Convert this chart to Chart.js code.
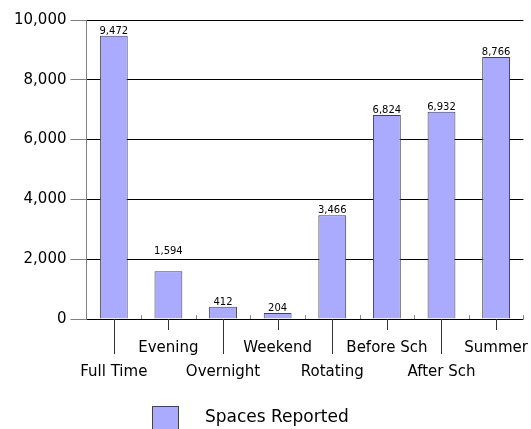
<!DOCTYPE html>
<html>
<head>
<meta charset="utf-8">
<script src="https://cdn.jsdelivr.net/npm/chart.js@4.4.0/dist/chart.umd.min.js"></script>
<style>
  html, body { margin: 0; padding: 0; background: #fff; overflow: hidden; }
  #wrap { width: 546px; height: 429px; position: relative; }
</style>
</head>
<body>
<div id="wrap"><canvas id="grafico"></canvas></div>
<script>
const categorias = ['Full Time', 'Evening', 'Overnight', 'Weekend', 'Rotating', 'Before Sch', 'After Sch', 'Summer'];
const vagas = [9472, 1594, 412, 204, 3466, 6824, 6932, 8766];
const ticksY = [0, 2000, 4000, 6000, 8000, 10000];
const nomeSerie = 'Spaces Reported';

const fonte = 'DejaVu Sans';
const corBarra = '#aaaaff';
const corBorda = '#444';

// rotulos alternam entre duas linhas
const rotulos = categorias.map((c, i) => i % 2 === 0 ? ['', c] : [c, '']);

const extras = {
  id: 'extras',
  afterDatasetsDraw(chart) {
    const ctx = chart.ctx;
    const x = chart.scales.x;
    const y = chart.scales.y;
    const area = chart.chartArea;
    ctx.save();

    // marcas das categorias abaixo do eixo
    ctx.strokeStyle = '#333';
    ctx.lineWidth = 1;
    categorias.forEach((c, i) => {
      const px = Math.round(x.getPixelForValue(i)) + 0.5;
      ctx.beginPath();
      ctx.moveTo(px, area.bottom);
      ctx.lineTo(px, area.bottom + (i % 2 === 0 ? 35 : 11));
      ctx.stroke();
    });

    // pequenas marcas entre categorias
    ctx.strokeStyle = '#888';
    for (let i = 1; i <= categorias.length; i++) {
      const px = Math.round(x.getPixelForValue(i - 0.5)) + 0.5;
      ctx.beginPath();
      ctx.moveTo(px, area.bottom - 4);
      ctx.lineTo(px, area.bottom);
      ctx.stroke();
    }

    // valores acima das barras (sobem se cruzarem uma linha de grade)
    ctx.fillStyle = '#000';
    ctx.font = '10px "' + fonte + '"';
    ctx.textAlign = 'center';
    ctx.textBaseline = 'alphabetic';
    const meta = chart.getDatasetMeta(0);
    meta.data.forEach((barra, i) => {
      let base = barra.y - 2;
      const alto = 12;
      ticksY.forEach(t => {
        const gy = y.getPixelForValue(t);
        if (gy > base - alto && gy < base) base = gy - 5;
      });
      ctx.fillText(vagas[i].toLocaleString('en-US'), barra.x, base);
    });
    ctx.restore();
  },
  afterDraw(chart) {
    const ctx = chart.ctx;
    const topo = chart.height - 23;
    ctx.save();
    ctx.fillStyle = corBarra;
    ctx.strokeStyle = corBorda;
    ctx.lineWidth = 1;
    ctx.fillRect(152, topo, 26, 26);
    ctx.strokeRect(152.5, topo + 0.5, 26, 26);
    ctx.fillStyle = '#000';
    ctx.font = '17px "' + fonte + '"';
    ctx.textAlign = 'left';
    ctx.textBaseline = 'middle';
    ctx.fillText(nomeSerie, 205, topo + 12);
    ctx.restore();
  }
};

const ctx = document.getElementById('grafico').getContext('2d');
new Chart(ctx, {
  type: 'bar',
  data: {
    labels: rotulos,
    datasets: [{
      label: nomeSerie,
      data: vagas,
      backgroundColor: corBarra,
      borderColor: corBorda,
      borderWidth: 1,
      categoryPercentage: 1,
      barPercentage: 0.51
    }]
  },
  options: {
    responsive: true,
    maintainAspectRatio: false,
    animation: false,
    layout: {
      padding: { left: 10, right: 17, top: 20, bottom: 28 }
    },
    plugins: {
      legend: { display: false },
      tooltip: { enabled: false }
    },
    scales: {
      x: {
        grid: { display: false, drawTicks: false },
        border: { display: false },
        ticks: {
          color: '#000',
          autoSkip: false,
          maxRotation: 0,
          padding: 17,
          font: { family: fonte, size: 15, lineHeight: 1.6 }
        }
      },
      y: {
        min: 0,
        max: 10000,
        grid: { color: '#000', tickColor: '#808080', tickLength: 16 },
        border: { color: '#808080' },
        ticks: {
          stepSize: 2000,
          color: '#000',
          padding: 4,
          font: { family: fonte, size: 15 }
        }
      }
    }
  },
  plugins: [extras]
});
</script>
</body>
</html>
